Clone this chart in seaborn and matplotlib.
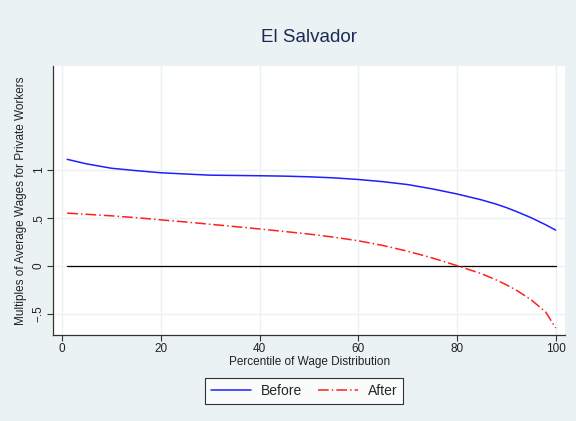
import numpy as np
import pandas as pd
import seaborn as sns
import matplotlib
matplotlib.use("Agg")
import matplotlib.pyplot as plt

# percentile points
pct = [1, 5, 10, 15, 20, 25, 30, 35, 40, 45, 50, 55, 60, 65, 70, 75, 80, 85, 88, 90, 92, 95, 98, 100]
before = [1.108, 1.06, 1.015, 0.99, 0.968, 0.955, 0.943, 0.940, 0.937, 0.933, 0.926,
          0.915, 0.898, 0.875, 0.845, 0.800, 0.747, 0.685, 0.640, 0.605, 0.565, 0.500, 0.425, 0.370]
after = [0.547, 0.535, 0.519, 0.500, 0.477, 0.455, 0.431, 0.407, 0.382, 0.356, 0.329,
         0.297, 0.259, 0.210, 0.150, 0.080, 0.000, -0.085, -0.150, -0.200, -0.255, -0.355, -0.485, -0.650]
yticks = [-0.5, 0, 0.5, 1]
ytick_labels = ["\u2212.5", "0", ".5", "1"]
xticks = [0, 20, 40, 60, 80, 100]

bg = "#EAF2F3"
sns.set_theme(style="white")
plt.rcParams["font.family"] = ["Liberation Sans", "DejaVu Sans"]

fig = plt.figure(figsize=(5.76, 4.21), dpi=100, facecolor=bg)
ax = fig.add_axes([0.0925, 0.205, 0.8885, 0.638])
ax.set_facecolor("white")

df = pd.DataFrame({"pct": pct, "Before": before, "After": after})

ax.axhline(0, xmin=(1 + 1.82) / 103.72, xmax=(100 + 1.82) / 103.72, color="black", lw=0.9, zorder=2)
sns.lineplot(data=df, x="pct", y="Before", ax=ax, color="#1f1fff", lw=1.1, label="Before", zorder=3)
sns.lineplot(data=df, x="pct", y="After", ax=ax, color="#ff1f1f", lw=1.1, label="After", zorder=3,
             linestyle=(0, (7, 2, 1, 2)))

ax.set_xlim(-1.82, 101.9)
ax.set_ylim(-0.72, 2.08)
ax.set_xticks(xticks)
ax.set_yticks(yticks)
ax.set_yticklabels(ytick_labels, rotation=90, va="center")
ax.grid(True, color=bg, lw=1.0)
ax.tick_params(axis="both", direction="out", length=4, width=0.8, color="#333333",
               labelsize=8.5, labelcolor="#222222", bottom=True, left=True, pad=2)
for side in ["top", "right"]:
    ax.spines[side].set_visible(False)
for side in ["left", "bottom"]:
    ax.spines[side].set_color("#333333")
    ax.spines[side].set_linewidth(0.9)

ax.set_xlabel("Percentile of Wage Distribution", fontsize=8.5, color="#222222", labelpad=1)
ax.set_ylabel("Multiples of Average Wages for Private Workers", fontsize=8.5, color="#222222", labelpad=4)
ax.set_title("El Salvador", fontsize=13.5, color="#1e2a55", pad=17)

leg = ax.legend(loc="center", bbox_to_anchor=(0.49, -0.21), ncol=2, frameon=True, fancybox=False,
                fontsize=10, handlelength=2.9, columnspacing=1.1, borderpad=0.45, handletextpad=0.7)
leg.get_frame().set_edgecolor("black")
leg.get_frame().set_linewidth(0.8)

fig.savefig("out.png", dpi=100, facecolor=bg)
